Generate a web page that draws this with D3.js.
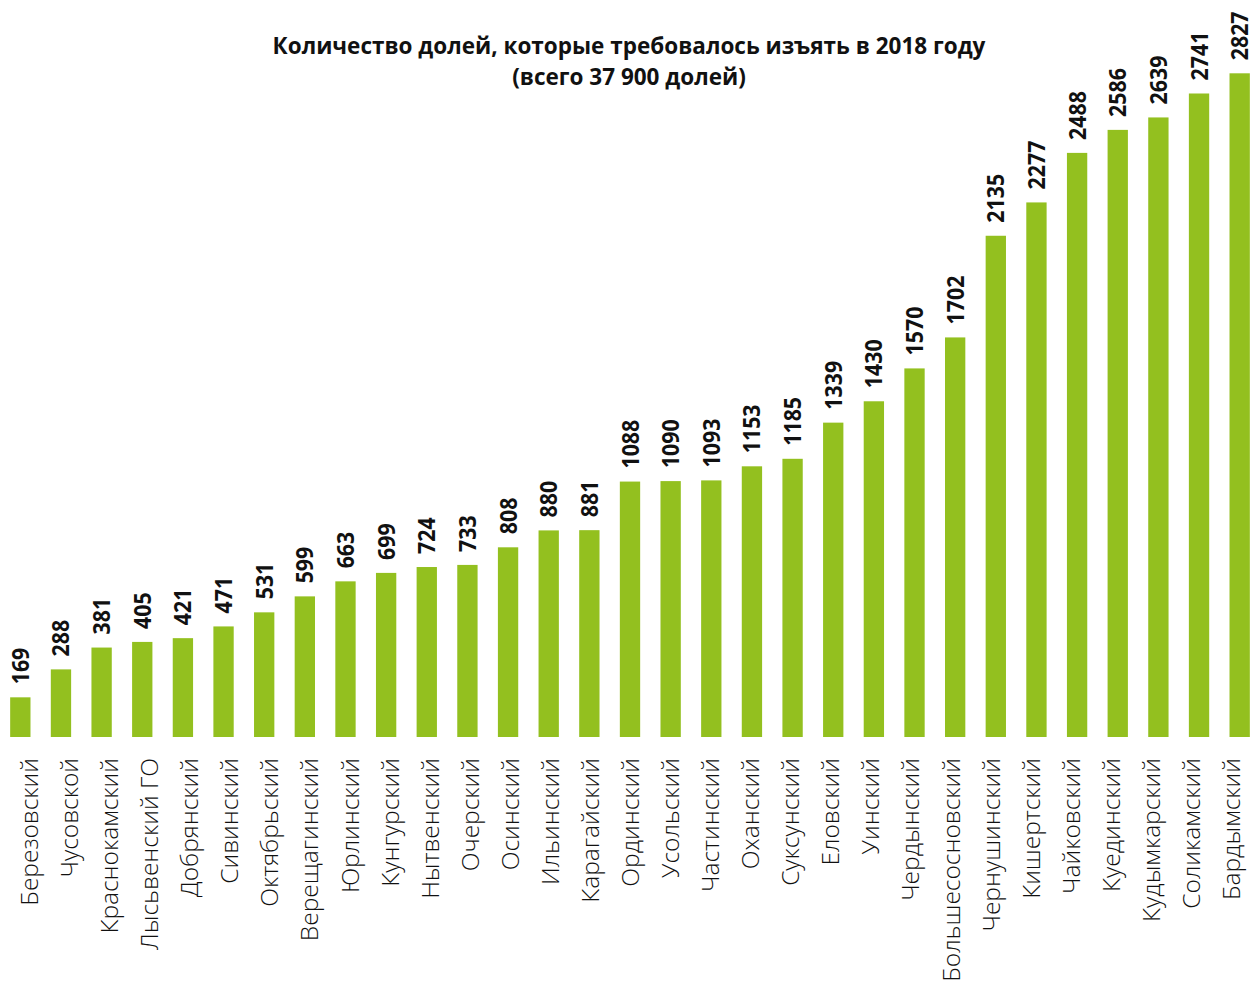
<!DOCTYPE html>
<html><head><meta charset="utf-8">
<script src="https://cdn.jsdelivr.net/npm/d3@7"></script>
<style>body{margin:0;background:#fff}</style>
</head><body>
<svg id="c" width="1250" height="984"></svg>
<script>
const categories = ["Березовский","Чусовской","Краснокамский","Лысьвенский ГО","Добрянский","Сивинский","Октябрьский","Верещагинский","Юрлинский","Кунгурский","Нытвенский","Очерский","Осинский","Ильинский","Карагайский","Ординский","Усольский","Частинский","Оханский","Суксунский","Еловский","Уинский","Чердынский","Большесосновский","Чернушинский","Кишертский","Чайковский","Куединский","Кудымкарский","Соликамский","Бардымский"];
const values = [169,288,381,405,421,471,531,599,663,699,724,733,808,880,881,1088,1090,1093,1153,1185,1339,1430,1570,1702,2135,2277,2488,2586,2639,2741,2827];
const titleLines = ["Количество долей, которые требовалось изъять в 2018 году","(всего 37 900 долей)"];

const svg = d3.select("#c");
const x = d3.scaleBand().domain(categories).range([0, 1260]).paddingInner(0.5).paddingOuter(0.25);
const xl = d3.scalePoint().domain(categories).range([38, 1240]);
const y = d3.scaleLinear().domain([0, 2827]).range([737, 73.3]);

svg.append("g").selectAll("rect").data(values).join("rect")
  .attr("x", (d,i) => x(categories[i]))
  .attr("y", d => y(d))
  .attr("width", x.bandwidth())
  .attr("height", d => y(0) - y(d))
  .attr("fill", "#93c01f");

svg.append("g").selectAll("text").data(values).join("text")
  .attr("transform", (d,i) => `translate(${x(categories[i]) + x.bandwidth()/2 + 8.5},${y(d) - 13}) rotate(-90) scale(0.93,1)`)
  .attr("font-family", "Open Sans")
  .attr("font-weight", 700)
  .attr("font-size", 23)
  .attr("fill", "#111")
  .text(d => d);

svg.append("g").selectAll("text").data(categories).join("text")
  .attr("transform", d => `translate(${xl(d)},758) rotate(-90)`)
  .attr("text-anchor", "end")
  .attr("font-family", "Open Sans")
  .attr("font-weight", 300)
  .attr("font-size", 24.5)
  .attr("fill", "#111")
  .text(d => d);

svg.append("g").selectAll("text").data(titleLines).join("text")
  .attr("x", 629).attr("y", (d,i) => 54 + i*31)
  .attr("text-anchor", "middle")
  .attr("font-family", "Open Sans")
  .attr("font-weight", 700)
  .attr("font-size", 22.5)
  .attr("fill", "#111")
  .text(d => d);
</script>
</body></html>
